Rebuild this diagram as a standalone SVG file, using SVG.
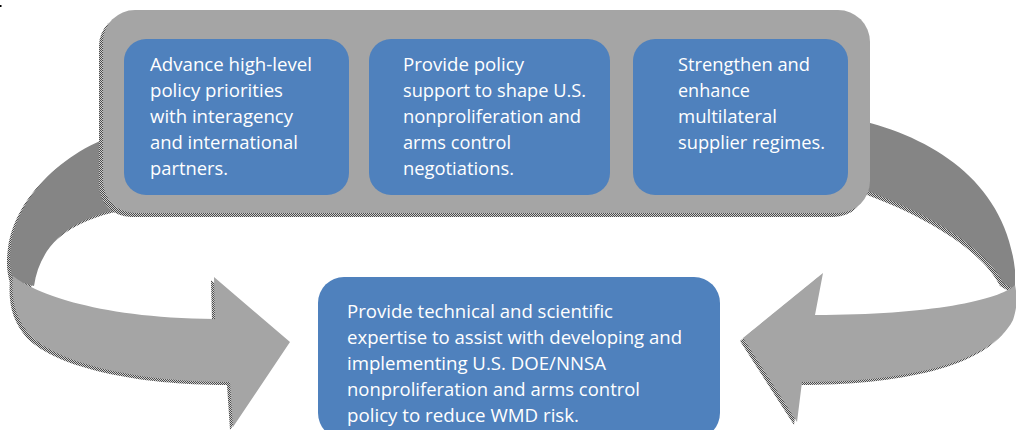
<svg xmlns="http://www.w3.org/2000/svg" xmlns:xlink="http://www.w3.org/1999/xlink" width="1016" height="430" viewBox="0 0 1016 430">
<style>
.blue{fill:#4f81bd}
.gray{fill:#a5a5a5}
.light{fill:#a5a5a5}
.dark{fill:#858585}
.shadow{fill:url(#dither)}
.txt{font-family:"Open Sans","Liberation Sans",sans-serif;font-size:18.5px;fill:#ffffff}
</style>
<defs>
<pattern id="dither" width="2" height="2" patternUnits="userSpaceOnUse">
<rect width="2" height="2" fill="#cfcfcf"/>
<rect width="1" height="1" fill="#4a4a4a"/>
<rect x="1" y="1" width="1" height="1" fill="#4a4a4a"/>
</pattern>
<path id="lDark" d="M 140 128 C 80 140, 20 185, 11 245 C 9 260, 10 270, 13 280 L 34 286 C 40 245, 70 215, 140 205 Z"/>
<path id="lLight" d="M 13 276 C 30 290, 90 318, 215 319 L 214 277 L 290 342 L 233 427 L 230 382 C 140 382, 60 365, 30 335 C 15 318, 11 300, 13 276 Z"/>
<path id="rDark" d="M 850 118 C 930 135, 1005 180, 1015 270 L 1015 290 L 1003 283 C 988 252, 935 213, 850 185 Z"/>
<path id="rLight" d="M 1015 285 C 1000 300, 930 315, 815 315 L 823 273 L 743 338 L 797 422 L 802 382 C 900 382, 990 365, 1013 320 C 1018 305, 1017 295, 1015 285 Z"/>
</defs>

<rect x="0" y="5" width="1.5" height="2" fill="#000"/>

<g id="connectors">
<g id="arrow-left">
<use xlink:href="#lDark" class="shadow" transform="translate(-3,3)"/>
<use xlink:href="#lLight" class="shadow" transform="translate(-3,3)"/>
<use xlink:href="#lDark" class="dark"/>
<use xlink:href="#lLight" class="light"/>
</g>
<g id="arrow-right">
<use xlink:href="#rDark" class="shadow" transform="translate(-3,3)"/>
<use xlink:href="#rLight" class="shadow" transform="translate(-3,3)"/>
<use xlink:href="#rDark" class="dark"/>
<use xlink:href="#rLight" class="light"/>
</g>
</g>

<g id="container">
<rect x="99" y="14" width="767" height="203" rx="32" class="shadow"/>
<rect x="103" y="10" width="767" height="203" rx="32" class="gray"/>
</g>

<g id="node1">
<rect x="124" y="39" width="225" height="156" rx="22" class="blue"/>
<text class="txt">
<tspan x="150" y="71" textLength="162" lengthAdjust="spacingAndGlyphs">Advance high-level</tspan>
<tspan x="150" y="97" textLength="133" lengthAdjust="spacingAndGlyphs">policy priorities</tspan>
<tspan x="150" y="123" textLength="143" lengthAdjust="spacingAndGlyphs">with interagency</tspan>
<tspan x="150" y="149" textLength="148" lengthAdjust="spacingAndGlyphs">and international</tspan>
<tspan x="150" y="175" textLength="78" lengthAdjust="spacingAndGlyphs">partners.</tspan>
</text>
</g>

<g id="node2">
<rect x="369" y="39" width="241" height="156" rx="22" class="blue"/>
<text class="txt">
<tspan x="403" y="71" textLength="121" lengthAdjust="spacingAndGlyphs">Provide policy</tspan>
<tspan x="403" y="97" textLength="183" lengthAdjust="spacingAndGlyphs">support to shape U.S.</tspan>
<tspan x="403" y="123" textLength="178" lengthAdjust="spacingAndGlyphs">nonproliferation and</tspan>
<tspan x="403" y="149" textLength="108" lengthAdjust="spacingAndGlyphs">arms control</tspan>
<tspan x="403" y="175" textLength="111" lengthAdjust="spacingAndGlyphs">negotiations.</tspan>
</text>
</g>

<g id="node3">
<rect x="633" y="39" width="215" height="156" rx="22" class="blue"/>
<text class="txt">
<tspan x="678" y="71" textLength="132" lengthAdjust="spacingAndGlyphs">Strengthen and</tspan>
<tspan x="678" y="97" textLength="72" lengthAdjust="spacingAndGlyphs">enhance</tspan>
<tspan x="678" y="123" textLength="99" lengthAdjust="spacingAndGlyphs">multilateral</tspan>
<tspan x="678" y="149" textLength="147" lengthAdjust="spacingAndGlyphs">supplier regimes.</tspan>
</text>
</g>

<g id="node4">
<rect x="318" y="277" width="402" height="162" rx="26" class="blue"/>
<text class="txt">
<tspan x="347" y="318" textLength="266" lengthAdjust="spacingAndGlyphs">Provide technical and scientific</tspan>
<tspan x="347" y="344" textLength="335" lengthAdjust="spacingAndGlyphs">expertise to assist with developing and</tspan>
<tspan x="347" y="370" textLength="259" lengthAdjust="spacingAndGlyphs">implementing U.S. DOE/NNSA</tspan>
<tspan x="347" y="396" textLength="293" lengthAdjust="spacingAndGlyphs">nonproliferation and arms control</tspan>
<tspan x="347" y="422" textLength="232" lengthAdjust="spacingAndGlyphs">policy to reduce WMD risk.</tspan>
</text>
</g>
</svg>
